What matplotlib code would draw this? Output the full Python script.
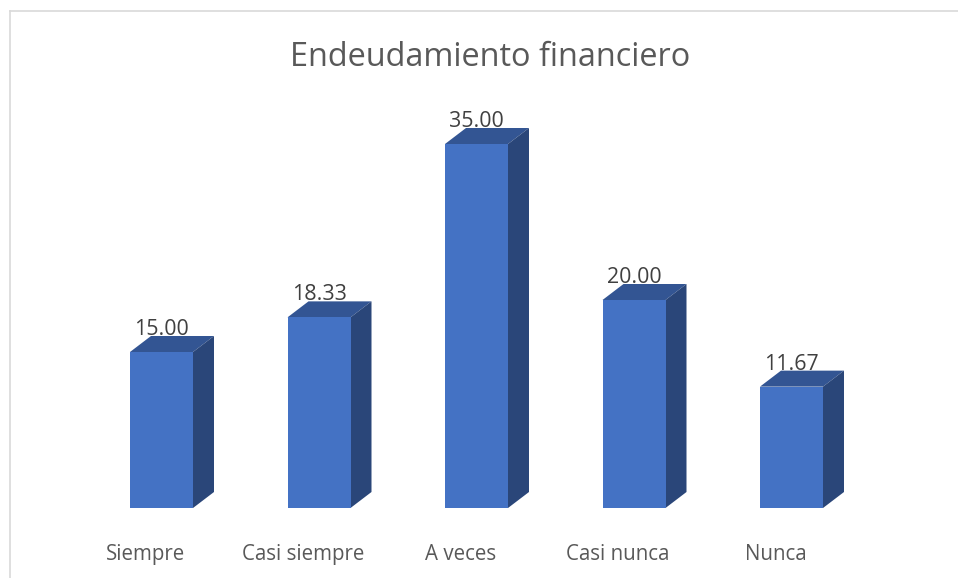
import matplotlib
matplotlib.use('Agg')
import matplotlib.pyplot as plt
from matplotlib.lines import Line2D
from matplotlib.patches import Polygon

# Chart data
categories = ['Siempre', 'Casi siempre', 'A veces', 'Casi nunca', 'Nunca']
values = [15.00, 18.33, 35.00, 20.00, 11.67]

plt.rcParams['font.family'] = ['Open Sans', 'DejaVu Sans']

W, H = 958, 578
fig = plt.figure(figsize=(W / 100, H / 100), dpi=100)

# Axes fills the width, its bottom edge is the base of the bars
ax = fig.add_axes([0, (H - 508) / H, 1, 508 / H])
px_per_cat = 157.5
px_per_unit = 10.4
ax.set_xlim(-161.5 / px_per_cat, (W - 161.5) / px_per_cat)
ax.set_ylim(0, 508 / px_per_unit)
ax.patch.set_alpha(0)

# Size of the 3D look, converted to data units
bar_w = 63 / px_per_cat
dx = 21 / px_per_cat
dy = 16 / px_per_unit

x = list(range(len(values)))
ax.bar(x, values, width=bar_w, color='#4472c4', linewidth=0, zorder=3)

for i, v in zip(x, values):
    r = i + bar_w / 2
    l = i - bar_w / 2
    # Top face
    ax.add_patch(Polygon([(l, v), (r, v), (r + dx, v + dy), (l + dx, v + dy)],
                         closed=True, fc='#335593', ec='none', zorder=2, clip_on=False))
    # Side face
    ax.add_patch(Polygon([(r, 0), (r + dx, dy), (r + dx, v + dy), (r, v)],
                         closed=True, fc='#2a4679', ec='none', zorder=2, clip_on=False))
    ax.annotate('%.2f' % v, (i, v), xytext=(0, 12.3), textcoords='offset points',
                ha='center', va='baseline', fontsize=15.4, color='#404040', zorder=4)

# Category labels sit left of the bar centres
ax.set_xticks([i - 16 / px_per_cat for i in x])
ax.set_xticklabels(categories, fontsize=14.8, color='#595959')
ax.tick_params(axis='x', length=0, pad=25.7)
ax.set_yticks([])
for s in ax.spines.values():
    s.set_visible(False)

fig.text(490 / W, 1 - 58 / H, 'Endeudamiento financiero', ha='center', va='center',
         fontsize=23.4, color='#595959')

# Chart frame, only the top and left edges show
fig.add_artist(Line2D([9.5 / W, 9.5 / W], [0, 1 - 10.5 / H], color='#d9d9d9', lw=1.2))
fig.add_artist(Line2D([9.5 / W, 1], [1 - 10.5 / H, 1 - 10.5 / H], color='#d9d9d9', lw=1.2))

plt.savefig('out.png', dpi=100)
